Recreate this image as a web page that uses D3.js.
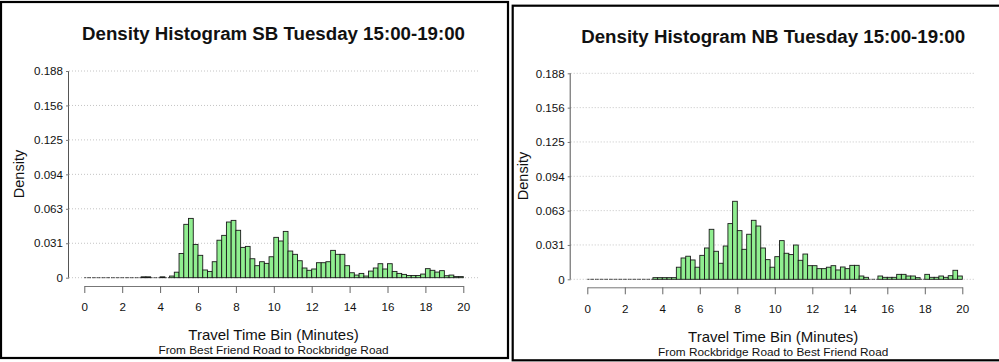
<!DOCTYPE html>
<html>
<head>
<meta charset="utf-8">
<script src="https://cdn.jsdelivr.net/npm/d3@7/dist/d3.min.js"></script>
<style>
  html, body { margin: 0; padding: 0; background: #fff; }
  svg { display: block; }
  text { font-family: "Liberation Sans", Arial, sans-serif; fill: #111; }
</style>
</head>
<body>
<svg id="chart" width="999" height="362"></svg>
<script>
// Density of travel times in 0.25-minute bins, 0 to 20 minutes (80 bins each)
const binWidth = 0.25;

const sbDensity = [
  0, 0, 0, 0, 0, 0, 0, 0, 0, 0, 0, 0,
  0.0008, 0.0008, 0, 0, 0.0008, 0, 0.0015, 0.005,
  0.022, 0.0484, 0.0538, 0.0302, 0.0203, 0.007, 0.0057, 0.0145,
  0.034, 0.0384, 0.0505, 0.052, 0.043, 0.0275, 0.0284, 0.0172,
  0.0109, 0.0145, 0.013, 0.019, 0.0366, 0.0333, 0.042, 0.0242,
  0.0212, 0.0154, 0.0088, 0.0067, 0.0079, 0.0136, 0.0136, 0.0145,
  0.0248, 0.0212, 0.0212, 0.0109, 0.0045, 0.0024, 0.0039, 0.0015,
  0.006, 0.0088, 0.0127, 0.0079, 0.0127, 0.0057, 0.0039, 0.003,
  0.002, 0.002, 0.002, 0.0033, 0.0082, 0.0067, 0.0051, 0.0064,
  0.0018, 0.0024, 0.001, 0.001
];

const nbDensity = [
  0, 0, 0, 0, 0, 0, 0, 0, 0, 0, 0, 0, 0, 0,
  0.0015, 0.0015, 0.0015, 0.0015, 0.0015, 0.011,
  0.0194, 0.021, 0.0176, 0.011, 0.0218, 0.0285, 0.0455, 0.0255,
  0.0146, 0.0303, 0.0507, 0.071, 0.0443, 0.0273, 0.041, 0.0537,
  0.0485, 0.0285, 0.0179, 0.011, 0.0206, 0.0352, 0.0237, 0.0225,
  0.0312, 0.0173, 0.023, 0.0124, 0.0124, 0.0097, 0.0097, 0.011,
  0.0124, 0.0085, 0.0112, 0.0097, 0.0127, 0.0127, 0.003, 0.0018,
  0, 0, 0.003, 0.0018, 0.0018, 0.0018, 0.0045, 0.0045,
  0.003, 0.003, 0.0015, 0, 0.0045, 0.0018, 0.0018, 0.003,
  0.0018, 0.0033, 0.0082, 0.003
];

const yTickValues = [0, 0.03125, 0.0625, 0.09375, 0.125, 0.15625, 0.1875];
const yTickLabels = ["0", "0.031", "0.063", "0.094", "0.125", "0.156", "0.188"];
const xTickValues = [0, 2, 4, 6, 8, 10, 12, 14, 16, 18, 20];

const titles = ["Density Histogram SB Tuesday 15:00-19:00", "Density Histogram NB Tuesday 15:00-19:00"];
const subtitles = ["From Best Friend Road to Rockbridge Road", "From Rockbridge Road to Best Friend Road"];
const xTitle = "Travel Time Bin (Minutes)";
const yTitle = "Density";

const svg = d3.select("#chart");

// Layout of each framed panel
const panels = [
  { values: sbDensity, title: titles[0], subtitle: subtitles[0],
    frame: [1, 2, 507, 356],
    xRange: [84.3, 463.3], yRange: [277.7, 71], axisX: 69, gridEnd: 478,
    xAxisY: 286, titleY: 40, yTitleX: 19, yTitleY: 174, xTitleY: 340, subY: 354 },
  { values: nbDensity, title: titles[1], subtitle: subtitles[1],
    frame: [512.7, 5.7, 490, 354.6],
    xRange: [587.3, 962.3], yRange: [279.3, 73.3], axisX: 570.7, gridEnd: 975.7,
    xAxisY: 287.3, titleY: 43, yTitleX: 523, yTitleY: 176, xTitleY: 342, subY: 356 }
];

panels.forEach(p => {
  const g = svg.append("g");

  g.append("rect")
    .attr("x", p.frame[0]).attr("y", p.frame[1])
    .attr("width", p.frame[2]).attr("height", p.frame[3])
    .attr("fill", "none").attr("stroke", "#000").attr("stroke-width", 2.2);

  const x = d3.scaleLinear().domain([0, 20]).range(p.xRange);
  const y = d3.scaleLinear().domain([0, 0.1875]).range(p.yRange);

  // dotted horizontal gridlines
  g.append("g").selectAll("line").data(yTickValues).join("line")
    .attr("x1", p.axisX).attr("x2", p.gridEnd)
    .attr("y1", d => y(d)).attr("y2", d => y(d))
    .attr("stroke", "#c4c4c4").attr("stroke-width", 1)
    .attr("stroke-dasharray", "1,2");

  // y axis
  const yAxis = d3.axisLeft(y).tickValues(yTickValues)
    .tickFormat((d, i) => yTickLabels[i]).tickSize(3).tickPadding(3);
  const ya = g.append("g").attr("transform", `translate(${p.axisX},0)`).call(yAxis);
  ya.select(".domain").attr("stroke", "#555").attr("d", `M-0.5,${p.yRange[1]}V${p.yRange[0]}`);
  ya.selectAll(".tick line").attr("stroke", "#777");
  ya.selectAll(".tick text").style("font-size", "11.6px")
    .style("font-family", "'Liberation Sans', Arial, sans-serif").attr("fill", "#1a1a1a");

  // x axis, offset below the plot
  const xAxis = d3.axisBottom(x).tickValues(xTickValues).tickSize(7).tickPadding(10).tickSizeOuter(0);
  const xa = g.append("g").attr("transform", `translate(0,${p.xAxisY})`).call(xAxis);
  xa.select(".domain").attr("stroke", "#777");
  xa.selectAll(".tick line").attr("stroke", "#666");
  xa.selectAll(".tick text").style("font-size", "11.6px")
    .style("font-family", "'Liberation Sans', Arial, sans-serif").attr("fill", "#1a1a1a");

  // histogram bars
  g.append("g").selectAll("rect").data(p.values).join("rect")
    .attr("x", (d, i) => x(i * binWidth))
    .attr("width", x(binWidth) - x(0))
    .attr("y", d => y(d))
    .attr("height", d => y(0) - y(d))
    .attr("fill", "#90EE90")
    .attr("stroke", "#1a1a1a").attr("stroke-width", 0.9);

  // empty bins collapse to an outline along the baseline
  g.append("g").selectAll("line").data(p.values.map((v, i) => ({ v, i })).filter(d => d.v === 0)).join("line")
    .attr("x1", d => x(d.i * binWidth)).attr("x2", d => x((d.i + 1) * binWidth))
    .attr("y1", y(0)).attr("y2", y(0))
    .attr("stroke", "#333").attr("stroke-width", 0.9)
    .attr("stroke-dasharray", "2,1");

  const cx = (p.axisX + p.gridEnd) / 2;

  g.append("text").attr("x", cx).attr("y", p.titleY)
    .attr("text-anchor", "middle")
    .style("font-size", "18.7px").style("font-weight", "bold")
    .text(p.title);

  g.append("text")
    .attr("transform", `translate(${p.yTitleX},${p.yTitleY}) rotate(-90)`)
    .attr("text-anchor", "middle").attr("dy", "0.35em")
    .style("font-size", "14.5px")
    .text(yTitle);

  g.append("text").attr("x", cx).attr("y", p.xTitleY)
    .attr("text-anchor", "middle").style("font-size", "15px")
    .text(xTitle);

  g.append("text").attr("x", cx).attr("y", p.subY)
    .attr("text-anchor", "middle").style("font-size", "11.8px")
    .text(p.subtitle);
});
</script>
</body>
</html>
